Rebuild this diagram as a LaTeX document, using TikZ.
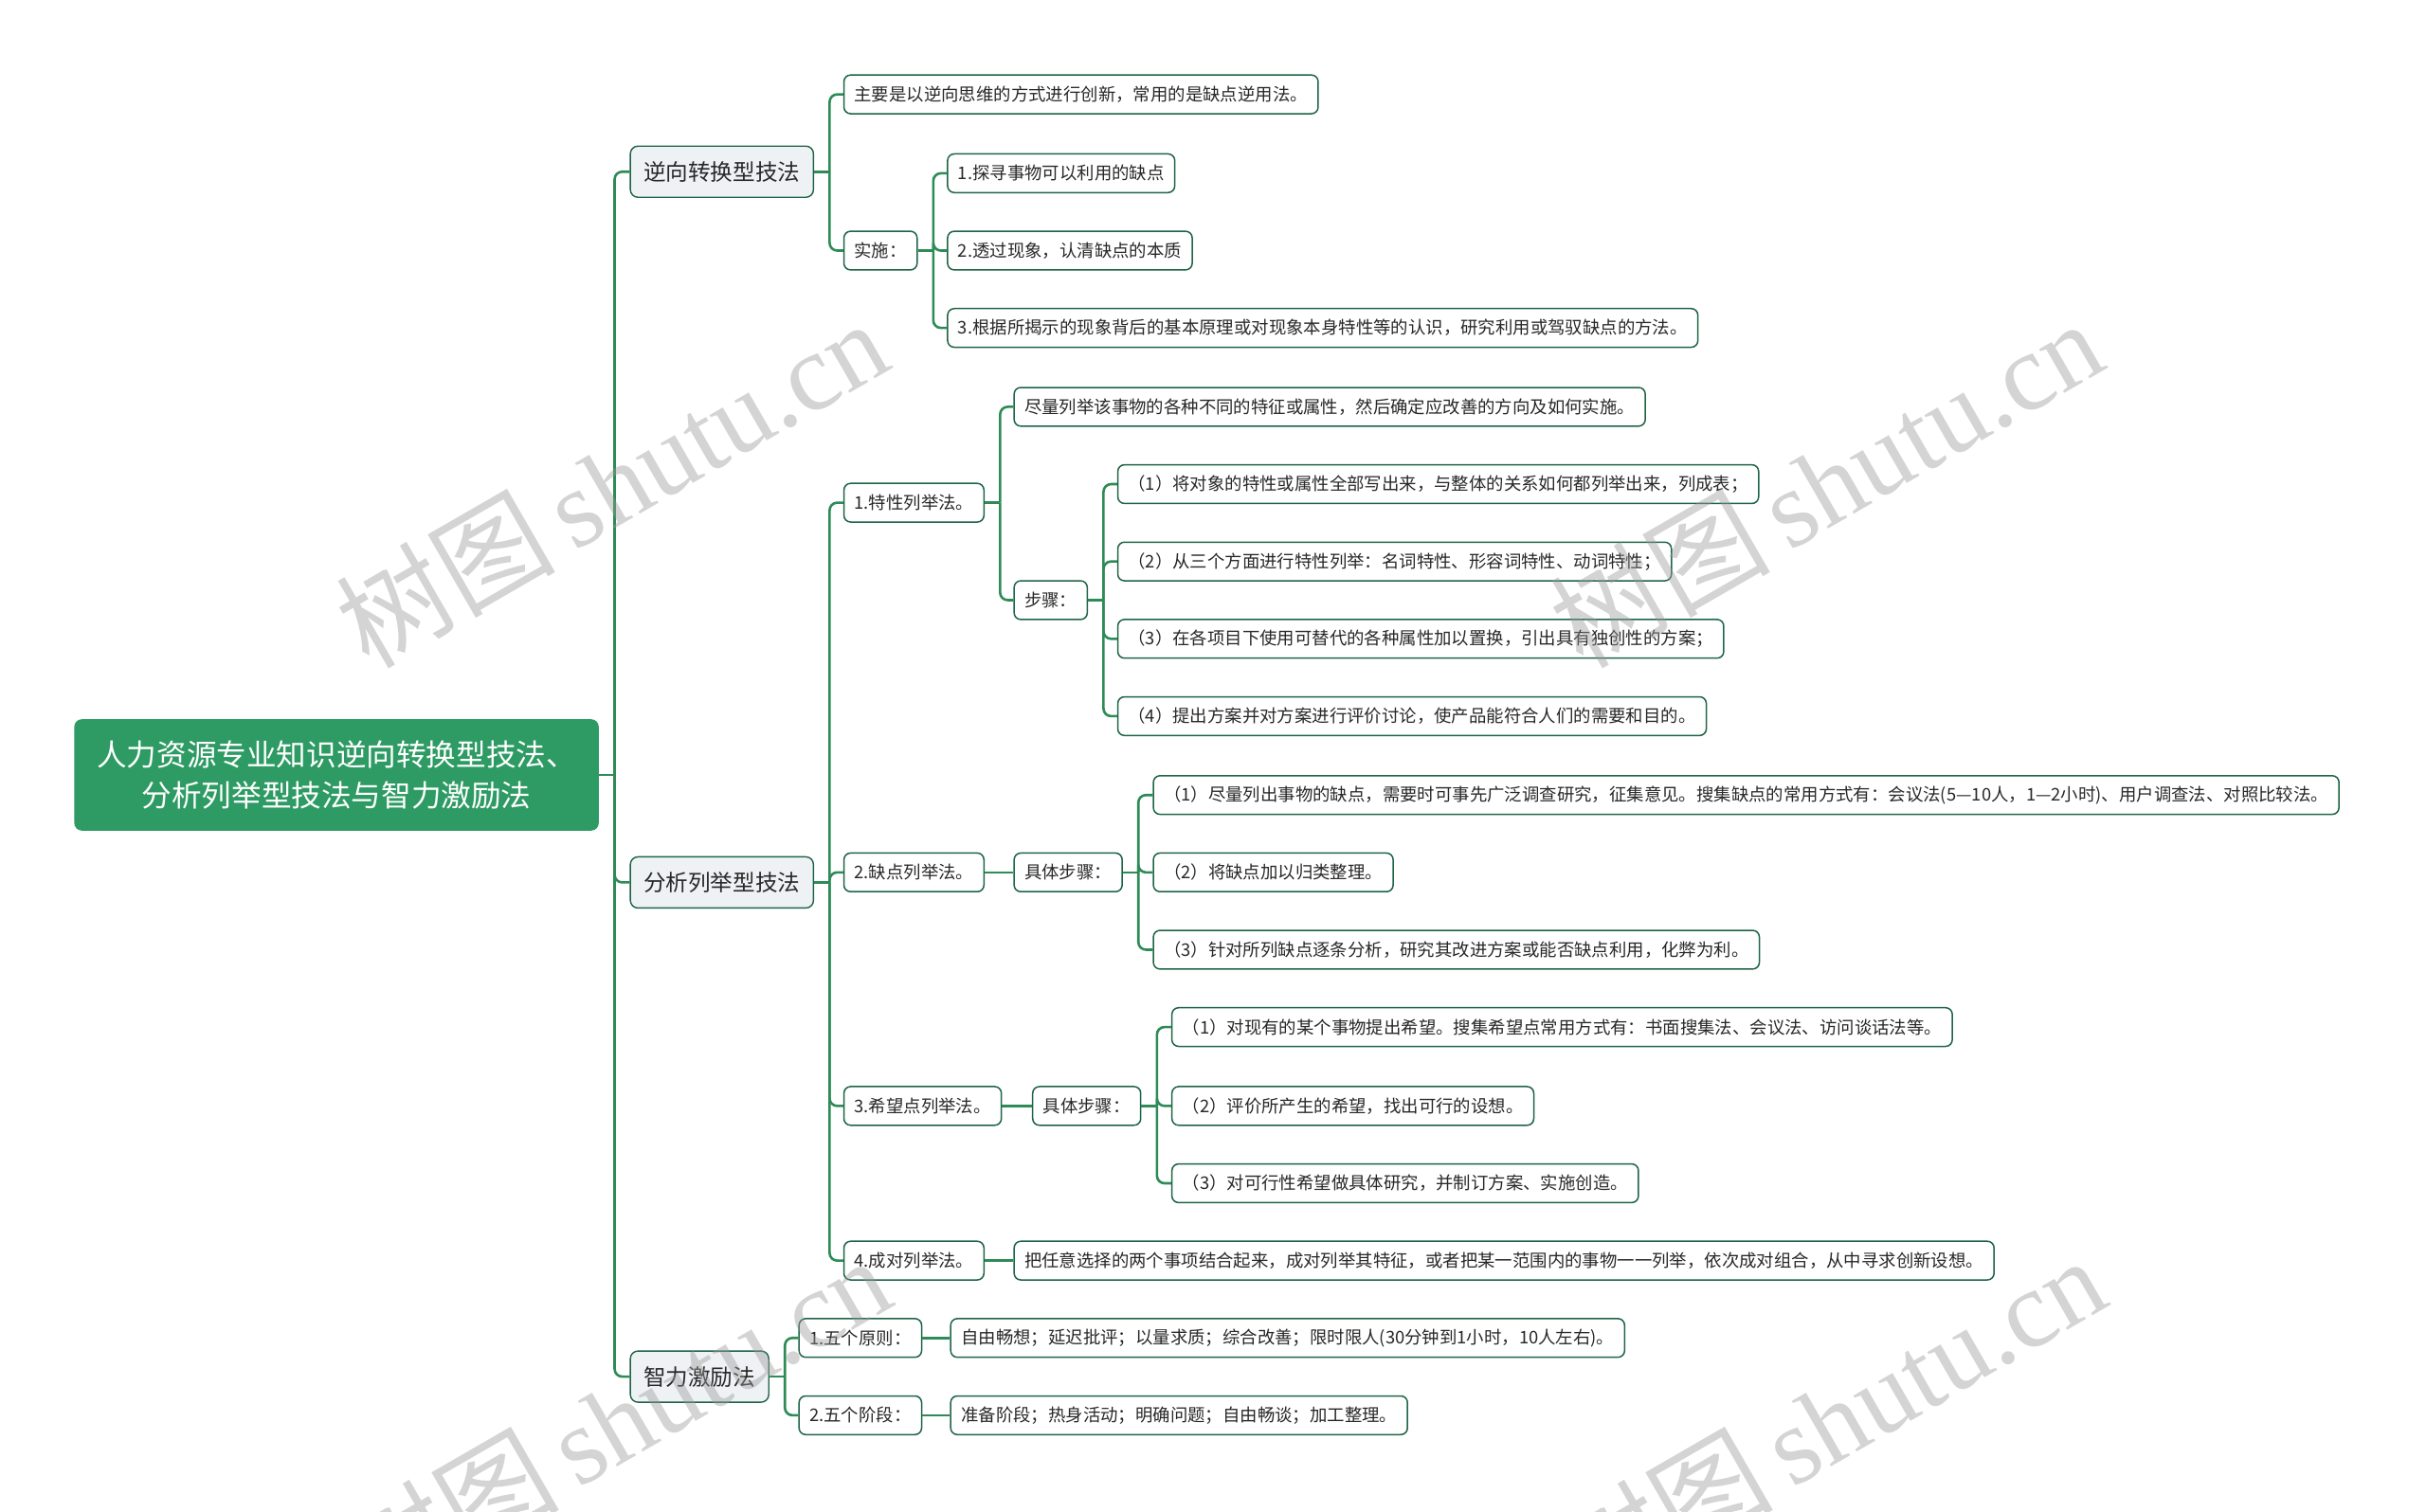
\documentclass[tikz,border=0pt]{standalone}
\usepackage{fontspec}
\setmainfont{Noto Sans CJK SC}
\newfontfamily\wmlatin{Liberation Serif}
\usetikzlibrary{calc}
\definecolor{rootg}{RGB}{46,155,100}
\definecolor{lineg}{RGB}{46,139,87}
\definecolor{leafb}{RGB}{30,100,70}
\definecolor{lonefill}{RGB}{238,242,245}
\definecolor{txt}{RGB}{40,40,40}
\begin{document}
\begin{tikzpicture}[x=0.8163pt,y=-0.8163pt,
  rootnode/.style={fill=rootg, rounded corners=4pt, text=white, minimum width=276.7pt, minimum height=58.8pt, align=center, font=\fontsize{15.8pt}{21.2pt}\selectfont, inner sep=0pt},
  lone/.style={draw=leafb, line width=0.7pt, fill=lonefill, rounded corners=4pt, minimum height=27pt, inner xsep=7pt, inner ysep=0pt, text=txt, font=\fontsize{11.8pt}{14pt}\selectfont, anchor=west},
  leaf/.style={draw=leafb, line width=0.75pt, fill=white, rounded corners=3.5pt, minimum height=20.4pt, inner xsep=5.5pt, inner ysep=0pt, text=txt, font=\fontsize{9.2pt}{11pt}\selectfont, anchor=west},
  conn/.style={draw=lineg, line width=1.3pt, rounded corners=4pt},
  wm/.style={text=black!40, opacity=0.42, rotate=30, inner sep=0pt}
]
\fill[white] (0,0) rectangle (1568,977);
\useasboundingbox (0,0) rectangle (1568,977);

% root
\node[rootnode] (root) at (217.5,501) {人力资源专业知识逆向转换型技法、\\分析列举型技法与智力激励法};

% level 1
\node[lone] (a) at (407,111) {逆向转换型技法};
\node[lone] (b) at (407,570.5) {分析列举型技法};
\node[lone] (c) at (407,890) {智力激励法};

% branch a
\node[leaf] (a1) at (545,61) {主要是以逆向思维的方式进行创新，常用的是缺点逆用法。};
\node[leaf] (a2) at (545,162) {实施：};
\node[leaf] (a21) at (612,112) {1.探寻事物可以利用的缺点};
\node[leaf] (a22) at (612,162) {2.透过现象，认清缺点的本质};
\node[leaf] (a23) at (612,212) {3.根据所揭示的现象背后的基本原理或对现象本身特性等的认识，研究利用或驾驭缺点的方法。};

% branch b
\node[leaf] (b1) at (545,325) {1.特性列举法。};
\node[leaf] (b11) at (655,263) {尽量列举该事物的各种不同的特征或属性，然后确定应改善的方向及如何实施。};
\node[leaf] (b12) at (655,388) {步骤：};
\node[leaf] (b121) at (722,313) {（1）将对象的特性或属性全部写出来，与整体的关系如何都列举出来，列成表；};
\node[leaf] (b122) at (722,363) {（2）从三个方面进行特性列举：名词特性、形容词特性、动词特性；};
\node[leaf] (b123) at (722,413) {（3）在各项目下使用可替代的各种属性加以置换，引出具有独创性的方案；};
\node[leaf] (b124) at (722,463) {（4）提出方案并对方案进行评价讨论，使产品能符合人们的需要和目的。};

\node[leaf] (b2) at (545,564) {2.缺点列举法。};
\node[leaf] (b21) at (655,564) {具体步骤：};
\node[leaf] (b211) at (745,514) {（1）尽量列出事物的缺点，需要时可事先广泛调查研究，征集意见。搜集缺点的常用方式有：会议法(5—10人，1—2小时)、用户调查法、对照比较法。};
\node[leaf] (b212) at (745,564) {（2）将缺点加以归类整理。};
\node[leaf] (b213) at (745,614) {（3）针对所列缺点逐条分析，研究其改进方案或能否缺点利用，化弊为利。};

\node[leaf] (b3) at (545,715) {3.希望点列举法。};
\node[leaf] (b31) at (667,715) {具体步骤：};
\node[leaf] (b311) at (757,664) {（1）对现有的某个事物提出希望。搜集希望点常用方式有：书面搜集法、会议法、访问谈话法等。};
\node[leaf] (b312) at (757,715) {（2）评价所产生的希望，找出可行的设想。};
\node[leaf] (b313) at (757,765) {（3）对可行性希望做具体研究，并制订方案、实施创造。};

\node[leaf] (b4) at (545,815) {4.成对列举法。};
\node[leaf] (b41) at (655,815) {把任意选择的两个事项结合起来，成对列举其特征，或者把某一范围内的事物一一列举，依次成对组合，从中寻求创新设想。};

% branch c
\node[leaf] (c1) at (516,865) {1.五个原则：};
\node[leaf] (c11) at (614,865) {自由畅想；延迟批评；以量求质；综合改善；限时限人(30分钟到1小时，10人左右)。};
\node[leaf] (c2) at (516,915) {2.五个阶段：};
\node[leaf] (c21) at (614,915) {准备阶段；热身活动；明确问题；自由畅谈；加工整理。};

% connectors
\draw[conn] (root.east) -- ++(10,0) coordinate (jr);
\foreach \t in {a,b,c} \draw[conn] (jr) |- (\t.west);

\draw[conn] (a.east) -- ++(10,0) coordinate (ja);
\foreach \t in {a1,a2} \draw[conn] (ja) |- (\t.west);
\draw[conn] (a2.east) -- ++(10,0) coordinate (ja2);
\foreach \t in {a21,a22,a23} \draw[conn] (ja2) |- (\t.west);

\draw[conn] (b.east) -- ++(10,0) coordinate (jb);
\foreach \t in {b1,b2,b3,b4} \draw[conn] (jb) |- (\t.west);
\draw[conn] (b1.east) -- ++(10,0) coordinate (jb1);
\foreach \t in {b11,b12} \draw[conn] (jb1) |- (\t.west);
\draw[conn] (b12.east) -- ++(10,0) coordinate (jb12);
\foreach \t in {b121,b122,b123,b124} \draw[conn] (jb12) |- (\t.west);
\draw[conn] (b2.east) -- (b21.west);
\draw[conn] (b21.east) -- ++(10,0) coordinate (jb21);
\foreach \t in {b211,b212,b213} \draw[conn] (jb21) |- (\t.west);
\draw[conn] (b3.east) -- (b31.west);
\draw[conn] (b31.east) -- ++(10,0) coordinate (jb31);
\foreach \t in {b311,b312,b313} \draw[conn] (jb31) |- (\t.west);
\draw[conn] (b4.east) -- (b41.west);

\draw[conn] (c.east) -- ++(10,0) coordinate (jc);
\foreach \t in {c1,c2} \draw[conn] (jc) |- (\t.west);
\draw[conn] (c1.east) -- (c11.west);
\draw[conn] (c2.east) -- (c21.west);

% watermarks
\foreach \p [count=\i] in {(395,312),(1180,312),(397,918),(1182,918)}
  \node[wm] (wm\i) at \p {\fontsize{58pt}{58pt}\selectfont 树图\,{\wmlatin shutu.cn}};
\end{tikzpicture}
\end{document}
